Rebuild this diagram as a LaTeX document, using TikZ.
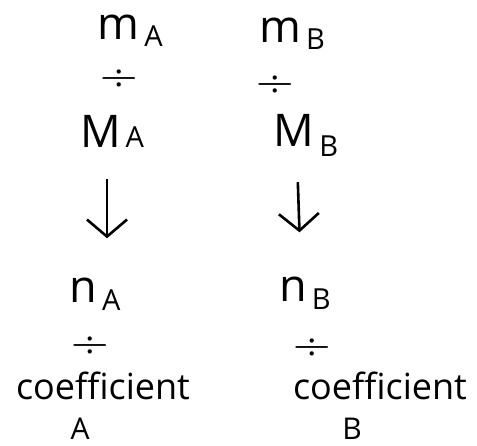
\documentclass[tikz,border=0pt]{standalone}
\usepackage{fontspec}
\setmainfont{Open Sans}
\usetikzlibrary{arrows.meta}
\newcommand{\quant}[3][7pt]{#2\hspace{5pt}\raisebox{-#1}{\fontsize{29}{29}\selectfont #3}}

\begin{document}
\begin{tikzpicture}[x=1pt, y=-1pt, >={Straight Barb[length=17pt, width=40pt]}]
      \tikzset{
        big/.style={font=\fontsize{45}{45}\selectfont, inner sep=0pt, anchor=base},
        divsign/.style={font=\fontsize{52}{52}\fontfamily{lmr}\selectfont, inner sep=0pt},
        word/.style={font=\fontsize{36}{36}\selectfont, inner sep=0pt, anchor=base},
        flow/.style={->, line width=2.6pt}
      }
      \useasboundingbox (0,0) rectangle (477,446);

      % left column
      \node[big] (massA) at (130,40) {\quant{m}{A}};
      \node[divsign] (divmA) at (119,81) {÷};
      \node[big] (molarA) at (112,148) {\quant[0pt]{M}{A}};
      \node[big] (molA) at (95,303) {\quant[8pt]{n}{A}};
      \node[divsign] (divnA) at (90,348) {÷};
      \node[word] (coefA) at (103,400) {coefficient};
      \node[word, font=\fontsize{30}{30}\selectfont] (letA) at (80,440) {A};

      % right column
      \node[big] (massB) at (292,43) {\quant{m}{B}};
      \node[divsign] (divmB) at (275,87) {÷};
      \node[big] (molarB) at (306,147) {\quant[10pt]{M}{B}};
      \node[big] (molB) at (305,302) {\quant[8pt]{n}{B}};
      \node[divsign] (divnB) at (312,350) {÷};
      \node[word] (coefB) at (380,400) {coefficient};
      \node[word, font=\fontsize{30}{30}\selectfont] (letB) at (352,440) {B};

      \draw[flow, shorten <=31pt, shorten >=40pt]
        ([xshift=-5pt]molarA.south) -- ([xshift=12pt]molA.north);
      \draw[flow, shorten <=25pt, shorten >=45pt]
        ([xshift=-9pt]molarB.south) -- ([xshift=-4pt]molB.north);
    \end{tikzpicture}
\end{document}
